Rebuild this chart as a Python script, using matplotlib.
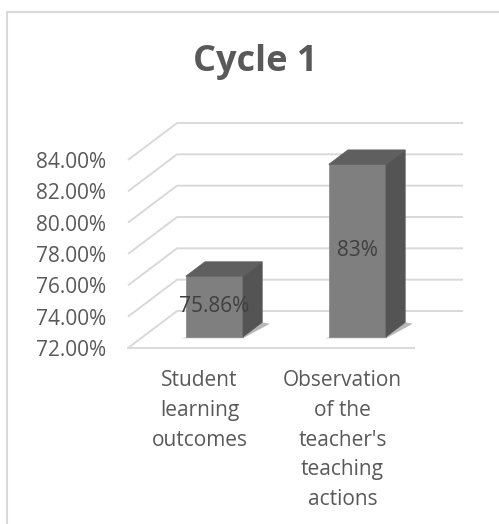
import matplotlib
matplotlib.use("Agg")
import matplotlib.pyplot as plt
from matplotlib.patches import Polygon
from matplotlib.lines import Line2D

# data
categories = ["Student\nlearning\noutcomes",
              "Observation\nof the\nteacher's\nteaching\nactions"]
values = [75.86, 83.0]
value_labels = ["75.86%", "83%"]
y_ticks = [72, 74, 76, 78, 80, 82, 84]
title = "Cycle 1"

# fake 3D geometry (depth offset in category / value units)
DX, DY = 0.343, 2.36
BAR_W = 0.40
Z0, Z1 = 0.305, 0.695
BASE = 72

TXT = "#595959"
GRID = "#d9d9d9"
FRONT, SIDE, TOP = "#7f7f7f", "#545454", "#5f5f5f"

plt.rcParams['font.family'] = ['Open Sans', 'DejaVu Sans']

W, H = 499, 524
fig = plt.figure(figsize=(W / 100, H / 100), dpi=100)

# axes placed so that x: 0..2+DX, y: 72..84+DY
x0, x1 = 128, 463
y0, y1 = 348, 123
ax = fig.add_axes([x0 / W, 1 - y0 / H, (x1 - x0) / W, (y0 - y1) / H])
ax.set_xlim(0, 2 + DX)
ax.set_ylim(BASE, y_ticks[-1] + DY)
for s in ax.spines.values():
    s.set_visible(False)
ax.set_xticks([])
ax.set_yticks(y_ticks)
ax.set_yticklabels([f"{t:.2f}%" for t in y_ticks])
ax.tick_params(axis='y', length=0, pad=16, labelsize=15, labelcolor=TXT)

# grid: side wall diagonals + back wall lines
for t in y_ticks:
    ax.plot([0, DX, 2 + DX], [t, t + DY, t + DY], color=GRID, lw=1.4,
            zorder=1, clip_on=False, solid_capstyle='butt')
# floor front edge
ax.plot([0, 2], [BASE, BASE], color=GRID, lw=1.4, zorder=1, clip_on=False)

for i, v in enumerate(values):
    xl = i + 0.5 - BAR_W / 2 + Z0 * DX
    xr = xl + BAR_W
    yb = BASE + Z0 * DY
    yt = v + Z0 * DY
    ddx = (Z1 - Z0) * DX
    ddy = (Z1 - Z0) * DY
    # soft shadow on the floor, right of the bar foot
    ax.add_patch(Polygon([(xl - 0.03, yb - 0.1), (xr, yb - 0.1), (xr + ddx * 1.4, yb + ddy * 0.9),
                          (xr + ddx, yb + ddy)],
                         closed=True, fc="#333333", ec="none", alpha=0.35, zorder=2))
    ax.add_patch(Polygon([(xl, yb), (xr, yb), (xr, yt), (xl, yt)],
                         closed=True, fc=FRONT, ec="#8c8c8c", lw=0.6, zorder=3))
    ax.add_patch(Polygon([(xr, yb), (xr + ddx, yb + ddy), (xr + ddx, yt + ddy), (xr, yt)],
                         closed=True, fc=SIDE, ec=SIDE, lw=0.6, zorder=3))
    ax.add_patch(Polygon([(xl, yt), (xr, yt), (xr + ddx, yt + ddy), (xl + ddx, yt + ddy)],
                         closed=True, fc=TOP, ec=TOP, lw=0.6, zorder=3))
    ax.text(i + 0.5 + Z0 * DX, (BASE + v) / 2 + Z0 * DY, value_labels[i],
            ha='center', va='center', fontsize=15, color="#404040", zorder=4)
    # category label under the floor front edge
    ax.text(i + 0.5, BASE - 1.4, categories[i], ha='center', va='top',
            fontsize=15, color=TXT, linespacing=1.55, clip_on=False)

fig.text(255 / W, 1 - 62 / H, title, ha='center', va='center',
         fontsize=26, fontweight='bold', color=TXT)

# chart area border (left and top only visible)
fig.add_artist(Line2D([7 / W, 7 / W], [0, 1 - 12 / H], color=GRID, lw=1.5))
fig.add_artist(Line2D([7 / W, 1], [1 - 12 / H, 1 - 12 / H], color=GRID, lw=1.5))

fig.savefig("out.png", dpi=100)
